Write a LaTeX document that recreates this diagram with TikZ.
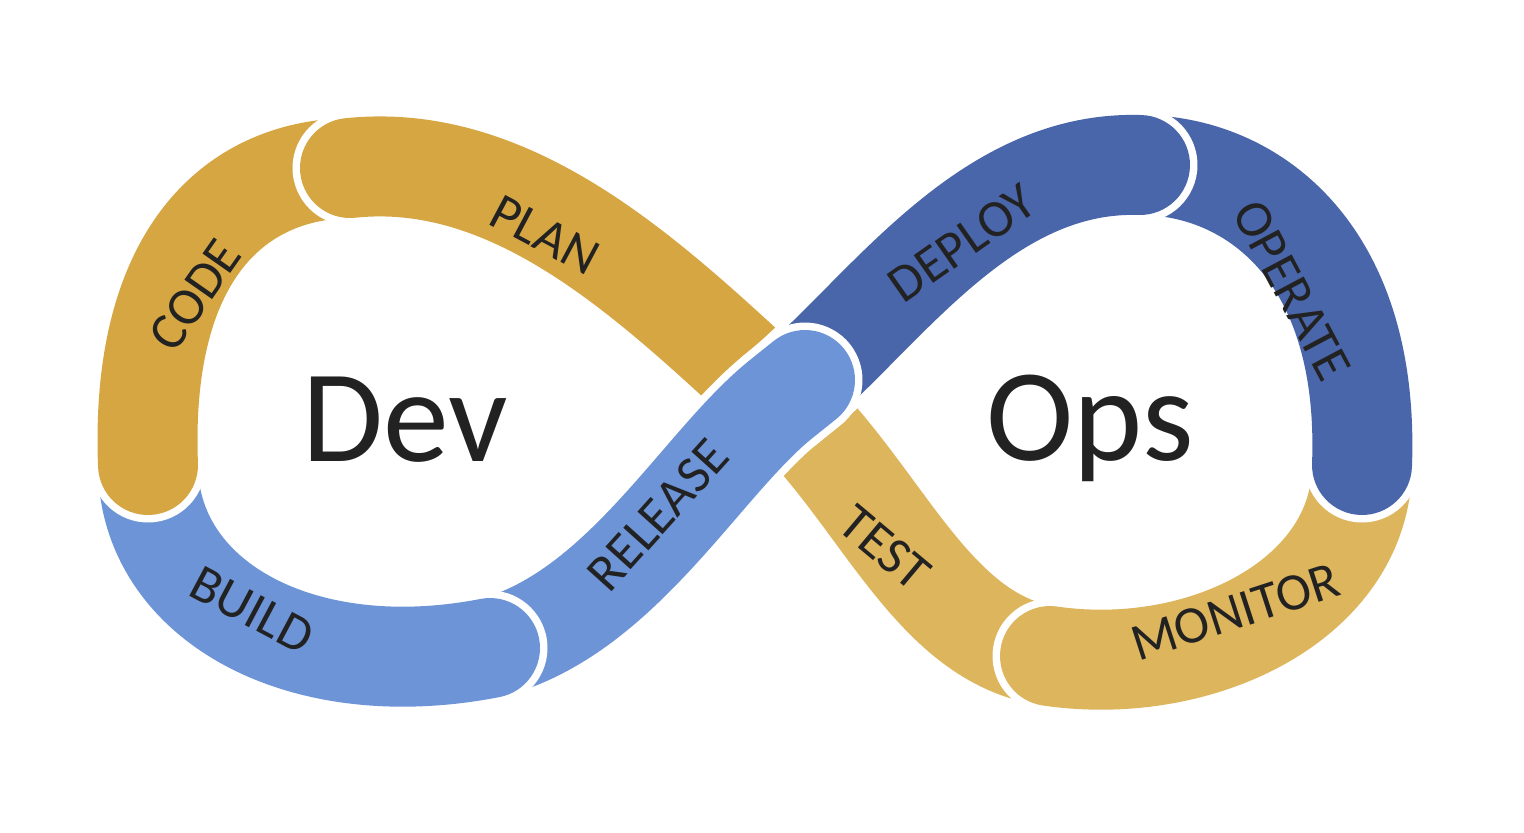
\documentclass[tikz,border=0pt]{standalone}
\usepackage{fontspec}
\setmainfont{Carlito}
\definecolor{yelA}{HTML}{D6A642}
\definecolor{yelB}{HTML}{DDB55C}
\definecolor{blueD}{HTML}{4A66AA}
\definecolor{blueL}{HTML}{6C94D6}
\definecolor{txt}{HTML}{222222}
\tikzset{
  seg/.style={line width=2cm},
  rim/.style={white,line width=2.3cm},
  lbl/.style={text=txt,font=\fontsize{30}{30}\selectfont},
  big/.style={text=txt,font=\fontsize{75}{75}\selectfont}
}
\begin{document}
\begin{tikzpicture}[x=0.02cm,y=-0.02cm]
\useasboundingbox (0,0) rectangle (1524,832);
\coordinate (X) at (780,400);
\coordinate (S) at (805,380);
% BUILD
\draw[rim,line cap=round] (490,648) .. controls (300,685) and (148,600) .. (148,465);
\draw[seg,blueL,line cap=round] (490,648) .. controls (300,685) and (148,600) .. (148,465);
% CODE
\draw[rim,line cap=round] (148,465) .. controls (140,260) and (230,170) .. (350,168);
\draw[seg,yelA,line cap=round] (148,465) .. controls (140,260) and (230,170) .. (350,168);
% PLAN
\draw[rim,line cap=round] (350,168) .. controls (520,150) and (660,290) .. (X);
\draw[seg,yelA,line cap=round] (350,168) .. controls (520,150) and (660,290) .. (X);
% TEST
\draw[rim,line cap=butt] (X) .. controls (880,490) and (930,640) .. (1050,656);
\draw[seg,yelB,line cap=butt] (X) .. controls (880,490) and (930,640) .. (1050,656);
% MONITOR
\draw[rim,line cap=round] (1050,656) .. controls (1200,678) and (1362,600) .. (1362,465);
\draw[seg,yelB,line cap=round] (1050,656) .. controls (1200,678) and (1362,600) .. (1362,465);
% OPERATE
\draw[rim,line cap=round] (1362,465) .. controls (1370,250) and (1250,165) .. (1140,165);
\draw[seg,blueD,line cap=round] (1362,465) .. controls (1370,250) and (1250,165) .. (1140,165);
% DEPLOY
\draw[rim,line cap=round] (1140,165) .. controls (980,160) and (880,320) .. (X);
\draw[seg,blueD,line cap=round] (1140,165) .. controls (980,160) and (880,320) .. (X);
% RELEASE
\draw[rim,line cap=round] (S) -- (X) .. controls (700,465) and (620,615) .. (490,648);
\draw[seg,blueL,line cap=round] (S) -- (X) .. controls (700,465) and (620,615) .. (490,648);
% BUILD end on top
\begin{scope}
\clip (412,540) rectangle (620,780);
\draw[rim,line cap=round] (490,648) .. controls (300,685) and (148,600) .. (148,465);
\draw[seg,blueL,line cap=round] (490,648) .. controls (300,685) and (148,600) .. (148,465);
\end{scope}
% labels
\node[lbl,rotate=55] (code) at (195,295) {CODE};
\node[lbl,rotate=-28] (plan) at (545,235) {PLAN};
\node[lbl,rotate=35] (deploy) at (962,243) {DEPLOY};
\node[lbl,rotate=-62] (operate) at (1292,290) {OPERATE};
\node[lbl,rotate=48] (release) at (658,515) {RELEASE};
\node[lbl,rotate=-28] (build) at (252,610) {BUILD};
\node[lbl,rotate=-40] (test) at (885,548) {TEST};
\node[lbl,rotate=18] (monitor) at (1235,612) {MONITOR};
\node[big] (dev) at (405,420) {Dev};
\node[big] (ops) at (1090,428) {Ops};
\end{tikzpicture}
\end{document}
